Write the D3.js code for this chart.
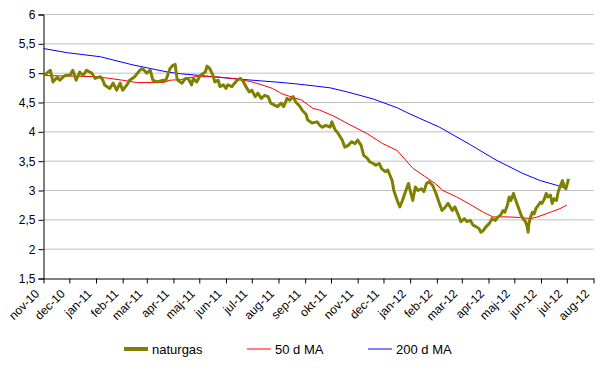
<!DOCTYPE html>
<html><head><meta charset="utf-8">
<script src="https://cdn.jsdelivr.net/npm/d3@7"></script>
<style>
body{margin:0;background:#fff;}
svg{display:block;font-family:Arial,"Liberation Sans",sans-serif;}
</style></head>
<body><svg id="c" width="601" height="373"></svg>
<script>
// ---- data ----
const gasDates = ["2010-11-01","2010-11-05","2010-11-09","2010-11-12","2010-11-17","2010-11-20","2010-11-26","2010-12-02","2010-12-05","2010-12-09","2010-12-13","2010-12-17","2010-12-21","2010-12-27","2010-12-31",
"2011-01-06","2011-01-09","2011-01-11","2011-01-17","2011-01-21","2011-01-25","2011-01-29","2011-02-01","2011-02-06","2011-02-09","2011-02-15","2011-02-21","2011-02-24","2011-03-01","2011-03-05","2011-03-08","2011-03-13","2011-03-20","2011-03-23","2011-03-26","2011-03-28","2011-03-31","2011-04-03","2011-04-05","2011-04-06","2011-04-11","2011-04-15","2011-04-18","2011-04-22","2011-04-24","2011-04-28",
"2011-05-02","2011-05-08","2011-05-10","2011-05-13","2011-05-17","2011-05-19","2011-05-23","2011-05-25","2011-05-29","2011-06-01","2011-06-03","2011-06-08","2011-06-11","2011-06-14","2011-06-18","2011-06-21","2011-06-23","2011-06-28",
"2011-07-01","2011-07-05","2011-07-08","2011-07-12","2011-07-16","2011-07-20","2011-07-23","2011-07-28","2011-07-31","2011-08-04","2011-08-07","2011-08-11","2011-08-14","2011-08-18","2011-08-21","2011-08-26","2011-08-29",
"2011-09-02","2011-09-04","2011-09-09","2011-09-15","2011-09-18","2011-09-21","2011-09-25","2011-09-30","2011-10-02","2011-10-06","2011-10-09","2011-10-14","2011-10-17","2011-10-21","2011-10-25","2011-10-29",
"2011-11-01","2011-11-05","2011-11-08","2011-11-12","2011-11-15","2011-11-19","2011-11-22","2011-11-26","2011-11-29","2011-12-03","2011-12-06","2011-12-11","2011-12-13","2011-12-17","2011-12-20","2011-12-23","2011-12-27","2011-12-30",
"2012-01-01","2012-01-04","2012-01-07","2012-01-10","2012-01-14","2012-01-17","2012-01-20","2012-01-23","2012-01-27","2012-01-31","2012-02-04","2012-02-07","2012-02-11","2012-02-14","2012-02-19","2012-02-22","2012-02-26","2012-02-29",
"2012-03-04","2012-03-07","2012-03-11","2012-03-14","2012-03-18","2012-03-21","2012-03-23","2012-03-26","2012-03-29","2012-04-02","2012-04-05","2012-04-09","2012-04-12","2012-04-15","2012-04-18","2012-04-20","2012-04-23","2012-04-25","2012-04-27","2012-04-30",
"2012-05-02","2012-05-04","2012-05-07","2012-05-09","2012-05-11","2012-05-14","2012-05-16","2012-05-17","2012-05-18","2012-05-20","2012-05-22","2012-05-24","2012-05-26","2012-05-29","2012-05-31",
"2012-06-02","2012-06-05","2012-06-07","2012-06-09","2012-06-12","2012-06-14","2012-06-16","2012-06-19","2012-06-21","2012-06-23","2012-06-26","2012-06-28","2012-06-30","2012-07-03"];
const gasValues = [4.96,5.0,5.05,4.85,4.93,4.88,4.96,4.97,5.05,4.88,5.02,4.96,5.05,5.0,4.91,
4.94,4.88,4.80,4.74,4.83,4.71,4.83,4.71,4.80,4.88,4.94,5.05,5.08,5.0,5.05,4.88,4.85,4.88,4.87,5.0,5.08,5.13,5.15,4.92,4.88,4.83,4.91,4.91,4.80,4.91,4.85,
4.96,5.02,5.12,5.08,4.96,4.85,4.88,4.77,4.80,4.74,4.80,4.77,4.83,4.88,4.91,4.86,4.80,4.68,
4.71,4.60,4.66,4.57,4.62,4.60,4.49,4.45,4.43,4.49,4.43,4.57,4.54,4.60,4.51,4.43,4.36,
4.30,4.20,4.15,4.17,4.11,4.08,4.11,4.08,4.17,4.03,3.98,3.86,3.74,3.77,3.83,3.80,
3.86,3.77,3.60,3.55,3.49,3.46,3.43,3.46,3.37,3.32,3.35,3.17,3.00,2.83,2.72,2.83,3.00,3.12,
3.00,2.83,3.06,3.00,3.03,2.98,3.12,3.15,3.09,2.95,2.78,2.66,2.72,2.78,2.66,2.72,2.58,2.47,
2.52,2.47,2.49,2.41,2.38,2.35,2.29,2.32,2.38,2.44,2.52,2.49,2.55,2.58,2.66,2.63,2.75,2.89,2.83,2.95,
2.86,2.78,2.66,2.58,2.52,2.47,2.38,2.29,2.44,2.55,2.63,2.60,2.69,2.75,2.80,
2.78,2.86,2.95,2.89,2.92,2.78,2.86,2.83,2.98,3.06,3.17,3.06,3.03,3.20];

const ma50Dates = ["2010-11-01","2010-12-02","2011-01-02","2011-01-17","2011-02-01","2011-02-17","2011-03-20","2011-03-28","2011-04-09","2011-04-26","2011-05-19","2011-06-15","2011-07-01","2011-07-13","2011-07-25","2011-08-05","2011-08-17","2011-08-28","2011-09-10","2011-09-18","2011-10-04","2011-10-23","2011-11-12","2011-11-30","2011-12-17","2012-01-04","2012-01-18","2012-01-30","2012-02-08","2012-02-24","2012-03-11","2012-03-26","2012-04-06","2012-04-23","2012-05-08","2012-05-20","2012-05-28","2012-06-12","2012-06-23","2012-07-01"];
const ma50Values = [4.96,4.95,4.94,4.91,4.88,4.84,4.84,4.88,4.89,4.94,4.94,4.90,4.85,4.80,4.74,4.65,4.59,4.54,4.40,4.37,4.27,4.12,3.97,3.80,3.68,3.38,3.24,3.12,3.00,2.89,2.76,2.63,2.55,2.55,2.54,2.52,2.55,2.63,2.69,2.75];

const ma200Dates = ["2010-11-01","2010-11-28","2011-01-06","2011-02-13","2011-03-05","2011-03-25","2011-04-09","2011-05-02","2011-05-31","2011-06-23","2011-07-28","2011-08-20","2011-09-13","2011-09-30","2011-10-20","2011-11-19","2011-12-17","2011-12-28","2012-01-12","2012-02-04","2012-02-22","2012-03-11","2012-03-28","2012-04-11","2012-04-26","2012-05-11","2012-05-31","2012-06-19","2012-07-01"];
const ma200Values = [5.42,5.35,5.28,5.14,5.08,5.02,4.99,4.96,4.92,4.89,4.85,4.82,4.78,4.75,4.68,4.56,4.41,4.33,4.23,4.08,3.93,3.78,3.63,3.51,3.40,3.29,3.17,3.09,3.03];

const yTicks = [1.5,2,2.5,3,3.5,4,4.5,5,5.5,6];
const monthLabels = ["jan","feb","mar","apr","maj","jun","jul","aug","sep","okt","nov","dec"];
const seriesNames = ["naturgas","50 d MA","200 d MA"];
const xStart = "2010-11-01", xEnd = "2012-08-01";

// ---- drawing ----
const parse = d3.timeParse("%Y-%m-%d");
const svg = d3.select("#c");
const L = 43.5, R = 593.5, T = 14.5, B = 278.5;
const x = d3.scaleTime().domain([parse(xStart), parse(xEnd)]).range([L, R]);
const y = d3.scaleLinear().domain([1.5, 6]).range([B, T]);
const fmtY = v => String(v).replace(".", ",");

// gridlines
svg.append("g").selectAll("line").data(yTicks.filter(v => v > 1.5)).join("line")
  .attr("x1", L).attr("x2", R).attr("y1", d => y(d)).attr("y2", d => y(d))
  .attr("stroke", "#c0c0c0").attr("stroke-width", 1);

// y axis
const yAxis = svg.append("g").attr("transform", `translate(${L},0)`)
  .call(d3.axisLeft(y).tickValues(yTicks).tickFormat(fmtY).tickSize(5).tickPadding(3));
yAxis.select(".domain").attr("stroke", "#000");
yAxis.selectAll("text").attr("font-size", 12).attr("fill", "#000").attr("font-family", "Arial, Liberation Sans, sans-serif");

// x axis
const xAxis = svg.append("g").attr("transform", `translate(0,${B})`)
  .call(d3.axisBottom(x).ticks(d3.timeMonth.every(1))
    .tickFormat(d => monthLabels[d.getMonth()] + "-" + String(d.getFullYear()).slice(2))
    .tickSize(5).tickSizeOuter(0));
xAxis.select(".domain").attr("stroke", "#000");
xAxis.selectAll("text").attr("font-size", 12).attr("fill", "#000").attr("font-family", "Arial, Liberation Sans, sans-serif")
  .attr("text-anchor", "end").attr("dy", "0.35em")
  .attr("transform", "translate(-7,13) rotate(-45)").attr("x", 0).attr("y", 0);

const line = d3.line().x(d => x(d[0])).y(d => y(d[1]));
const mk = (ds, vs) => ds.map((d, i) => [parse(d), vs[i]]);

svg.append("path").datum(mk(ma200Dates, ma200Values)).attr("d", line)
  .attr("fill", "none").attr("stroke", "#0000ff").attr("stroke-width", 1);
svg.append("path").datum(mk(ma50Dates, ma50Values)).attr("d", line)
  .attr("fill", "none").attr("stroke", "#ff0000").attr("stroke-width", 1);
svg.append("path").datum(mk(gasDates, gasValues)).attr("d", line)
  .attr("fill", "none").attr("stroke", "#808000").attr("stroke-width", 3).attr("stroke-linejoin", "round");

// legend
const leg = [{n: seriesNames[0], c: "#808000", w: 4, x: 124},
             {n: seriesNames[1], c: "#ff0000", w: 1, x: 247},
             {n: seriesNames[2], c: "#0000ff", w: 1, x: 368}];
const lg = svg.append("g");
leg.forEach(d => {
  lg.append("line").attr("x1", d.x).attr("x2", d.x + 24).attr("y1", 349).attr("y2", 349)
    .attr("stroke", d.c).attr("stroke-width", d.w);
  lg.append("text").attr("x", d.x + 28).attr("y", 349).attr("dy", "0.35em")
    .attr("font-size", 13).attr("fill", "#000").text(d.n);
});
</script></body></html>
